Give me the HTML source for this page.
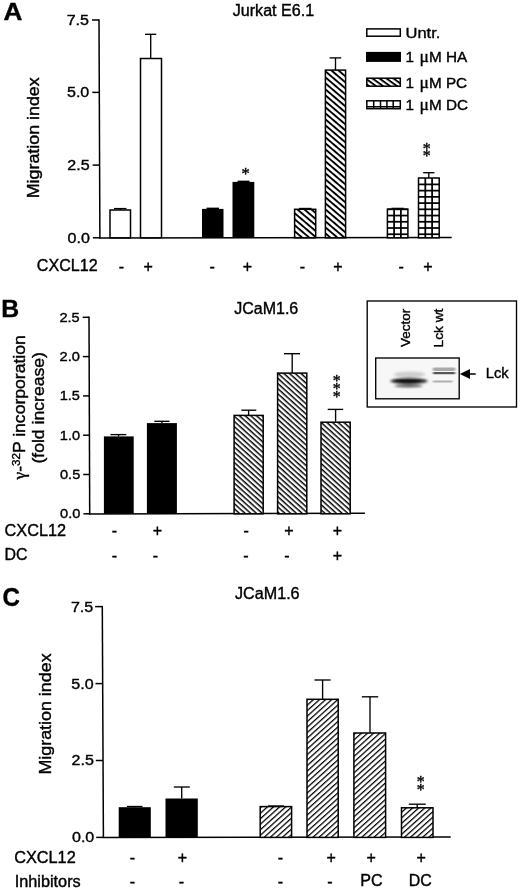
<!DOCTYPE html>
<html lang="en"><head><meta charset="utf-8"><title>Figure</title>
<style>html,body{margin:0;padding:0;background:#fff}body{width:520px;height:891px;overflow:hidden}svg{display:block}text{fill:#000;stroke:#000;stroke-width:0.38px}</style>
</head><body>
<svg width="520" height="891" viewBox="0 0 520 891" font-family="Liberation Sans, Arial, Helvetica, sans-serif">
<defs>
<pattern id="hA" patternUnits="userSpaceOnUse" width="10" height="4.57" patternTransform="translate(325.4 70.1) rotate(40.4)"><rect width="10" height="4.57" fill="#fff"/><rect y="0" width="10" height="1.9" fill="#000"/></pattern>
<pattern id="hB" patternUnits="userSpaceOnUse" width="10" height="3.82" patternTransform="translate(234 415) rotate(42)"><rect width="10" height="3.82" fill="#fff"/><rect y="0" width="10" height="1.45" fill="#000"/></pattern>
<pattern id="hC" patternUnits="userSpaceOnUse" width="10" height="4.08" patternTransform="translate(307 699) rotate(-42)"><rect width="10" height="4.08" fill="#fff"/><rect y="0" width="10" height="1.25" fill="#000"/></pattern>
<pattern id="hL" patternUnits="userSpaceOnUse" width="10" height="4.1" patternTransform="translate(366.8 78.2) rotate(36)"><rect width="10" height="4.1" fill="#fff"/><rect y="0" width="10" height="1.9" fill="#000"/></pattern>
<filter id="bl" x="-20%" y="-100%" width="140%" height="300%"><feGaussianBlur stdDeviation="1.5 0.9"/></filter>
<filter id="bl2" x="-20%" y="-100%" width="140%" height="300%"><feGaussianBlur stdDeviation="1.0 0.6"/></filter>
</defs>
<rect width="520" height="891" fill="#fff"/>
<g id="panelA">
<text x="3.6" y="19.7" font-size="24.6" text-anchor="start" font-weight="bold" textLength="18.9" lengthAdjust="spacingAndGlyphs" >A</text>
<text x="232.8" y="15.6" font-size="16" text-anchor="start" textLength="81.3" lengthAdjust="spacingAndGlyphs" >Jurkat E6.1</text>
<line x1="99.0" y1="19.3" x2="99.9" y2="238.45" stroke="#000" stroke-width="1.5"/>
<line x1="99.25" y1="237.9" x2="451.7" y2="237.4" stroke="#000" stroke-width="1.5"/>
<line x1="92.0" y1="20.0" x2="99.0" y2="20.0" stroke="#000" stroke-width="1.5"/>
<text x="89.0" y="24.9" font-size="15" text-anchor="end" textLength="22.3" lengthAdjust="spacingAndGlyphs" >7.5</text>
<line x1="92.3" y1="92.4" x2="99.3" y2="92.4" stroke="#000" stroke-width="1.5"/>
<text x="89.3" y="97.30000000000001" font-size="15" text-anchor="end" textLength="22.3" lengthAdjust="spacingAndGlyphs" >5.0</text>
<line x1="92.6" y1="165.1" x2="99.6" y2="165.1" stroke="#000" stroke-width="1.5"/>
<text x="89.6" y="170.0" font-size="15" text-anchor="end" textLength="22.3" lengthAdjust="spacingAndGlyphs" >2.5</text>
<line x1="92.9" y1="237.8" x2="99.9" y2="237.8" stroke="#000" stroke-width="1.5"/>
<text x="89.9" y="242.70000000000002" font-size="15" text-anchor="end" textLength="22.3" lengthAdjust="spacingAndGlyphs" >0.0</text>
<text transform="translate(38.5 198.3) rotate(-90)" font-size="16.2" textLength="121" lengthAdjust="spacingAndGlyphs" >Migration index</text>
<rect x="110" y="210" width="20.5" height="27.8" fill="#fff" stroke="#000" stroke-width="1.5"/>
<line x1="120.25" y1="208.6" x2="120.25" y2="210" stroke="#000" stroke-width="1.35"/>
<line x1="114" y1="208.6" x2="126.5" y2="208.6" stroke="#000" stroke-width="1.35"/>
<rect x="140.5" y="58.5" width="21.0" height="179.3" fill="#fff" stroke="#000" stroke-width="1.5"/>
<line x1="150.7" y1="34.3" x2="150.7" y2="58.5" stroke="#000" stroke-width="1.35"/>
<line x1="145" y1="34.3" x2="156.3" y2="34.3" stroke="#000" stroke-width="1.35"/>
<rect x="202" y="208.9" width="21.5" height="28.9" fill="#000"/>
<line x1="212.75" y1="208.3" x2="212.75" y2="209" stroke="#000" stroke-width="1.35"/>
<line x1="206.5" y1="208.3" x2="219" y2="208.3" stroke="#000" stroke-width="1.35"/>
<rect x="232.5" y="181.9" width="21.8" height="55.9" fill="#000"/>
<line x1="243.4" y1="181.3" x2="243.4" y2="182" stroke="#000" stroke-width="1.35"/>
<line x1="237.5" y1="181.3" x2="249.5" y2="181.3" stroke="#000" stroke-width="1.35"/>
<rect x="294.6" y="209.3" width="21.1" height="28.5" fill="url(#hA)" stroke="#000" stroke-width="1.5"/>
<line x1="305.2" y1="208.5" x2="305.2" y2="209.3" stroke="#000" stroke-width="1.35"/>
<line x1="299" y1="208.5" x2="311.5" y2="208.5" stroke="#000" stroke-width="1.35"/>
<rect x="325.4" y="70.1" width="20.2" height="167.7" fill="url(#hA)" stroke="#000" stroke-width="1.5"/>
<line x1="335.5" y1="57.9" x2="335.5" y2="70.1" stroke="#000" stroke-width="1.35"/>
<line x1="329.6" y1="57.9" x2="341.2" y2="57.9" stroke="#000" stroke-width="1.35"/>
<rect x="387.4" y="209.2" width="20.5" height="28.6" fill="#fff" stroke="#000" stroke-width="1.5"/>
<line x1="394.1" y1="209.2" x2="394.1" y2="237.8" stroke="#000" stroke-width="1.75"/>
<line x1="400.9" y1="209.2" x2="400.9" y2="237.8" stroke="#000" stroke-width="1.75"/>
<line x1="387.4" y1="209.32" x2="407.9" y2="209.32" stroke="#000" stroke-width="1.75"/>
<line x1="387.4" y1="215.55" x2="407.9" y2="215.55" stroke="#000" stroke-width="1.75"/>
<line x1="387.4" y1="221.78" x2="407.9" y2="221.78" stroke="#000" stroke-width="1.75"/>
<line x1="387.4" y1="228.01" x2="407.9" y2="228.01" stroke="#000" stroke-width="1.75"/>
<line x1="387.4" y1="234.24" x2="407.9" y2="234.24" stroke="#000" stroke-width="1.75"/>
<line x1="397.6" y1="208.4" x2="397.6" y2="209.2" stroke="#000" stroke-width="1.35"/>
<line x1="391.5" y1="208.4" x2="403.8" y2="208.4" stroke="#000" stroke-width="1.35"/>
<rect x="418.5" y="178" width="20.7" height="59.8" fill="#fff" stroke="#000" stroke-width="1.5"/>
<line x1="425.3" y1="178" x2="425.3" y2="237.8" stroke="#000" stroke-width="1.75"/>
<line x1="432.1" y1="178" x2="432.1" y2="237.8" stroke="#000" stroke-width="1.75"/>
<line x1="418.5" y1="184.4" x2="439.2" y2="184.4" stroke="#000" stroke-width="1.75"/>
<line x1="418.5" y1="190.63" x2="439.2" y2="190.63" stroke="#000" stroke-width="1.75"/>
<line x1="418.5" y1="196.86" x2="439.2" y2="196.86" stroke="#000" stroke-width="1.75"/>
<line x1="418.5" y1="203.09" x2="439.2" y2="203.09" stroke="#000" stroke-width="1.75"/>
<line x1="418.5" y1="209.32" x2="439.2" y2="209.32" stroke="#000" stroke-width="1.75"/>
<line x1="418.5" y1="215.55" x2="439.2" y2="215.55" stroke="#000" stroke-width="1.75"/>
<line x1="418.5" y1="221.78" x2="439.2" y2="221.78" stroke="#000" stroke-width="1.75"/>
<line x1="418.5" y1="228.01" x2="439.2" y2="228.01" stroke="#000" stroke-width="1.75"/>
<line x1="418.5" y1="234.24" x2="439.2" y2="234.24" stroke="#000" stroke-width="1.75"/>
<line x1="428.8" y1="172.7" x2="428.8" y2="178" stroke="#000" stroke-width="1.35"/>
<line x1="423.2" y1="172.7" x2="434.4" y2="172.7" stroke="#000" stroke-width="1.35"/>
<text x="245.5" y="179.34" font-size="16.5" text-anchor="middle" stroke="none" font-family="Liberation Serif, Times New Roman, serif">*</text>
<text x="426.6" y="153.8" font-size="15.8" text-anchor="middle" stroke="none" font-family="Liberation Serif, Times New Roman, serif">*</text>
<text x="426.6" y="161.1" font-size="15.8" text-anchor="middle" stroke="none" font-family="Liberation Serif, Times New Roman, serif">*</text>
<text x="36.8" y="270.5" font-size="16" text-anchor="start" textLength="60.8" lengthAdjust="spacingAndGlyphs" >CXCL12</text>
<text x="121.4" y="271.6" font-size="16" text-anchor="middle" >-</text>
<text x="148.2" y="271.75" font-size="16" text-anchor="middle" >+</text>
<text x="212.2" y="271.6" font-size="16" text-anchor="middle" >-</text>
<text x="247.5" y="271.75" font-size="16" text-anchor="middle" >+</text>
<text x="302.4" y="271.6" font-size="16" text-anchor="middle" >-</text>
<text x="337.8" y="271.75" font-size="16" text-anchor="middle" >+</text>
<text x="401.2" y="271.6" font-size="16" text-anchor="middle" >-</text>
<text x="427.8" y="271.75" font-size="16" text-anchor="middle" >+</text>
<rect x="366.8" y="28.9" width="33.5" height="7.3" fill="#fff" stroke="#000" stroke-width="1.5"/>
<rect x="366" y="51.9" width="35" height="10.0" fill="#000"/>
<rect x="366.8" y="78.2" width="33.5" height="8.0" fill="url(#hL)" stroke="#000" stroke-width="1.5"/>
<rect x="366.8" y="100.8" width="33.5" height="7.9" fill="#fff" stroke="#000" stroke-width="1.5"/>
<line x1="373.7" y1="100.8" x2="373.7" y2="108.7" stroke="#000" stroke-width="1.5"/>
<line x1="380.5" y1="100.8" x2="380.5" y2="108.7" stroke="#000" stroke-width="1.5"/>
<line x1="386.9" y1="100.8" x2="386.9" y2="108.7" stroke="#000" stroke-width="1.5"/>
<line x1="393.2" y1="100.8" x2="393.2" y2="108.7" stroke="#000" stroke-width="1.5"/>
<line x1="366.8" y1="106.7" x2="400.3" y2="106.7" stroke="#000" stroke-width="1.5"/>
<text x="405.5" y="37.6" font-size="15.5" text-anchor="start" textLength="34.8" lengthAdjust="spacingAndGlyphs" >Untr.</text>
<text y="62.3" font-size="15.3"><tspan x="405.6">1 </tspan><tspan x="419.4" font-family="Liberation Serif, Times New Roman, serif" font-size="17.5">μ</tspan><tspan x="428.9">M HA</tspan></text>
<text y="87.5" font-size="15.3"><tspan x="405.6">1 </tspan><tspan x="419.4" font-family="Liberation Serif, Times New Roman, serif" font-size="17.5">μ</tspan><tspan x="428.9">M PC</tspan></text>
<text y="110.1" font-size="15.3"><tspan x="405.6">1 </tspan><tspan x="419.4" font-family="Liberation Serif, Times New Roman, serif" font-size="17.5">μ</tspan><tspan x="428.9">M DC</tspan></text>
</g>
<g id="panelB">
<text x="1.3" y="316.7" font-size="24.8" text-anchor="start" font-weight="bold" >B</text>
<text x="234.2" y="313.8" font-size="16" text-anchor="start" textLength="64.1" lengthAdjust="spacingAndGlyphs" >JCaM1.6</text>
<line x1="89.0" y1="316.6" x2="89.7" y2="514.45" stroke="#000" stroke-width="1.5"/>
<line x1="89.05" y1="513.9" x2="364.9" y2="513.3" stroke="#000" stroke-width="1.5"/>
<line x1="82.7" y1="317.3" x2="89.0" y2="317.3" stroke="#000" stroke-width="1.5"/>
<text x="79.7" y="321.7" font-size="13.7" text-anchor="end" textLength="20.3" lengthAdjust="spacingAndGlyphs" >2.5</text>
<line x1="82.84" y1="356.6" x2="89.14" y2="356.6" stroke="#000" stroke-width="1.5"/>
<text x="79.84" y="361.0" font-size="13.7" text-anchor="end" textLength="20.3" lengthAdjust="spacingAndGlyphs" >2.0</text>
<line x1="82.98" y1="395.9" x2="89.28" y2="395.9" stroke="#000" stroke-width="1.5"/>
<text x="79.98" y="400.29999999999995" font-size="13.7" text-anchor="end" textLength="20.3" lengthAdjust="spacingAndGlyphs" >1.5</text>
<line x1="83.12" y1="435.2" x2="89.42" y2="435.2" stroke="#000" stroke-width="1.5"/>
<text x="80.12" y="439.59999999999997" font-size="13.7" text-anchor="end" textLength="20.3" lengthAdjust="spacingAndGlyphs" >1.0</text>
<line x1="83.26" y1="474.5" x2="89.56" y2="474.5" stroke="#000" stroke-width="1.5"/>
<text x="80.26" y="478.9" font-size="13.7" text-anchor="end" textLength="20.3" lengthAdjust="spacingAndGlyphs" >0.5</text>
<line x1="83.4" y1="513.8" x2="89.7" y2="513.8" stroke="#000" stroke-width="1.5"/>
<text x="80.4" y="518.1999999999999" font-size="13.7" text-anchor="end" textLength="20.3" lengthAdjust="spacingAndGlyphs" >0.0</text>
<text transform="translate(25.0 479.4) rotate(-90)" font-size="16.8" textLength="144.2" lengthAdjust="spacingAndGlyphs" ><tspan font-family="Liberation Serif, Times New Roman, serif" font-size="16.5">γ</tspan>-<tspan font-size="11" dy="-5.2">32</tspan><tspan dy="5.2">P incorporation</tspan></text>
<text transform="translate(44.4 463.6) rotate(-90)" font-size="16.8" textLength="111.5" lengthAdjust="spacingAndGlyphs" >(fold increase)</text>
<rect x="103.9" y="436.4" width="29.8" height="77.4" fill="#000"/>
<line x1="118.6" y1="434.6" x2="118.6" y2="436.4" stroke="#000" stroke-width="1.35"/>
<line x1="110.5" y1="434.6" x2="126.3" y2="434.6" stroke="#000" stroke-width="1.35"/>
<rect x="146.9" y="423.1" width="30.0" height="90.7" fill="#000"/>
<line x1="161.9" y1="421.3" x2="161.9" y2="423.1" stroke="#000" stroke-width="1.35"/>
<line x1="154.3" y1="421.3" x2="169.5" y2="421.3" stroke="#000" stroke-width="1.35"/>
<rect x="234.1" y="415.4" width="29.1" height="98.4" fill="url(#hB)" stroke="#000" stroke-width="1.5"/>
<line x1="248.6" y1="410.2" x2="248.6" y2="415.4" stroke="#000" stroke-width="1.35"/>
<line x1="241.3" y1="410.2" x2="256.3" y2="410.2" stroke="#000" stroke-width="1.35"/>
<rect x="277.6" y="373.1" width="29.2" height="140.7" fill="url(#hB)" stroke="#000" stroke-width="1.5"/>
<line x1="292.2" y1="353.7" x2="292.2" y2="373.1" stroke="#000" stroke-width="1.35"/>
<line x1="284" y1="353.7" x2="300" y2="353.7" stroke="#000" stroke-width="1.35"/>
<rect x="321" y="422.2" width="29.2" height="91.6" fill="url(#hB)" stroke="#000" stroke-width="1.5"/>
<line x1="335.6" y1="409.4" x2="335.6" y2="421.7" stroke="#000" stroke-width="1.35"/>
<line x1="327.7" y1="409.4" x2="343.2" y2="409.4" stroke="#000" stroke-width="1.35"/>
<text x="336.8" y="385.9" font-size="15.8" text-anchor="middle" stroke="none" font-family="Liberation Serif, Times New Roman, serif">*</text>
<text x="336.8" y="393.9" font-size="15.8" text-anchor="middle" stroke="none" font-family="Liberation Serif, Times New Roman, serif">*</text>
<text x="336.8" y="401.6" font-size="15.8" text-anchor="middle" stroke="none" font-family="Liberation Serif, Times New Roman, serif">*</text>
<text x="4.6" y="535.6" font-size="16" text-anchor="start" textLength="61.5" lengthAdjust="spacingAndGlyphs" >CXCL12</text>
<text x="4.6" y="560.1" font-size="15.8" text-anchor="start" textLength="23" lengthAdjust="spacingAndGlyphs" >DC</text>
<text x="114.5" y="536.1" font-size="16" text-anchor="middle" >-</text>
<text x="157.5" y="536.25" font-size="16" text-anchor="middle" >+</text>
<text x="246.2" y="536.1" font-size="16" text-anchor="middle" >-</text>
<text x="289" y="536.25" font-size="16" text-anchor="middle" >+</text>
<text x="337.5" y="536.25" font-size="16" text-anchor="middle" >+</text>
<text x="114.3" y="560.8000000000001" font-size="16" text-anchor="middle" >-</text>
<text x="155.5" y="560.8000000000001" font-size="16" text-anchor="middle" >-</text>
<text x="246" y="560.8000000000001" font-size="16" text-anchor="middle" >-</text>
<text x="287" y="560.8000000000001" font-size="16" text-anchor="middle" >-</text>
<text x="337.5" y="560.95" font-size="16" text-anchor="middle" >+</text>
<rect x="367.2" y="301.0" width="149.3" height="106.0" fill="#fff" stroke="#000" stroke-width="1.35"/>
<rect x="375.7" y="358" width="83.5" height="40.8" fill="#f7f7f7" stroke="#000" stroke-width="1.35"/>
<text transform="translate(409.9 346.9) rotate(-90)" font-size="13.3" textLength="38.2" lengthAdjust="spacingAndGlyphs" >Vector</text>
<text transform="translate(442.6 347.4) rotate(-90)" font-size="13.6" textLength="38.8" lengthAdjust="spacingAndGlyphs" >Lck wt</text>
<g filter="url(#bl)">
<ellipse cx="409.5" cy="374.6" rx="15.5" ry="3.2" fill="#cfcfcf"/>
<ellipse cx="409" cy="381" rx="18.5" ry="3.2" fill="#3a3a3a"/>
<ellipse cx="408" cy="380.9" rx="13.5" ry="2" fill="#0a0a0a"/>
<ellipse cx="408.5" cy="386" rx="14" ry="1.5" fill="#5a5a5a"/>
</g><g filter="url(#bl2)">
<rect x="432.8" y="367.6" width="22.6" height="3.3" rx="1.2" fill="#a9a9a9"/>
<rect x="432.8" y="371.9" width="22.6" height="2.3" rx="1.1" fill="#575757"/>
<rect x="432.6" y="380.6" width="20" height="1.9" rx="0.9" fill="#b0b0b0"/>
</g>
<polygon points="459.9,374 470,368.9 470,379.1" fill="#000"/>
<line x1="469.5" y1="374" x2="475.7" y2="374" stroke="#000" stroke-width="1.5"/>
<text x="485.7" y="377.5" font-size="14.7" text-anchor="start" textLength="23" lengthAdjust="spacingAndGlyphs" >Lck</text>
</g>
<g id="panelC">
<text x="2.6" y="606.4" font-size="25.3" text-anchor="start" font-weight="bold" textLength="17.4" lengthAdjust="spacingAndGlyphs" >C</text>
<text x="235" y="599.4" font-size="16" text-anchor="start" textLength="64.6" lengthAdjust="spacingAndGlyphs" >JCaM1.6</text>
<line x1="102.3" y1="605.9" x2="103.4" y2="838.05" stroke="#000" stroke-width="1.5"/>
<line x1="102.75" y1="837.5" x2="450.7" y2="836.9" stroke="#000" stroke-width="1.5"/>
<line x1="95.1" y1="606.6" x2="102.3" y2="606.6" stroke="#000" stroke-width="1.5"/>
<text x="93.2" y="611.5" font-size="15" text-anchor="end" textLength="22.3" lengthAdjust="spacingAndGlyphs" >7.5</text>
<line x1="95.47" y1="683.6" x2="102.67" y2="683.6" stroke="#000" stroke-width="1.5"/>
<text x="93.57" y="688.5" font-size="15" text-anchor="end" textLength="22.3" lengthAdjust="spacingAndGlyphs" >5.0</text>
<line x1="95.83" y1="760.5" x2="103.03" y2="760.5" stroke="#000" stroke-width="1.5"/>
<text x="93.93" y="765.4" font-size="15" text-anchor="end" textLength="22.3" lengthAdjust="spacingAndGlyphs" >2.5</text>
<line x1="96.2" y1="837.4" x2="103.4" y2="837.4" stroke="#000" stroke-width="1.5"/>
<text x="94.3" y="842.3" font-size="15" text-anchor="end" textLength="22.3" lengthAdjust="spacingAndGlyphs" >0.0</text>
<text transform="translate(50.6 774.6) rotate(-90)" font-size="17.3" textLength="121.2" lengthAdjust="spacingAndGlyphs" >Migration index</text>
<rect x="118.7" y="807.2" width="32.1" height="30.2" fill="#000"/>
<line x1="134.7" y1="806.5" x2="134.7" y2="807.2" stroke="#000" stroke-width="1.35"/>
<line x1="127" y1="806.5" x2="142.5" y2="806.5" stroke="#000" stroke-width="1.35"/>
<rect x="165.5" y="798.5" width="32.3" height="38.9" fill="#000"/>
<line x1="181.7" y1="787" x2="181.7" y2="798.5" stroke="#000" stroke-width="1.35"/>
<line x1="173.8" y1="787" x2="189.8" y2="787" stroke="#000" stroke-width="1.35"/>
<rect x="260.2" y="806.6" width="31.4" height="30.8" fill="url(#hC)" stroke="#000" stroke-width="1.5"/>
<line x1="275.9" y1="806" x2="275.9" y2="806.6" stroke="#000" stroke-width="1.35"/>
<line x1="268" y1="806" x2="284" y2="806" stroke="#000" stroke-width="1.35"/>
<rect x="307" y="699.3" width="31.2" height="138.1" fill="url(#hC)" stroke="#000" stroke-width="1.5"/>
<line x1="322.6" y1="680" x2="322.6" y2="699.3" stroke="#000" stroke-width="1.35"/>
<line x1="314.5" y1="680" x2="330.6" y2="680" stroke="#000" stroke-width="1.35"/>
<rect x="353.9" y="733" width="31.7" height="104.4" fill="url(#hC)" stroke="#000" stroke-width="1.5"/>
<line x1="370" y1="696.8" x2="370" y2="733" stroke="#000" stroke-width="1.35"/>
<line x1="361.8" y1="696.8" x2="378.2" y2="696.8" stroke="#000" stroke-width="1.35"/>
<rect x="401.5" y="807.8" width="31.5" height="29.6" fill="url(#hC)" stroke="#000" stroke-width="1.5"/>
<line x1="417.2" y1="804.2" x2="417.2" y2="807.8" stroke="#000" stroke-width="1.35"/>
<line x1="408.8" y1="804.2" x2="425.7" y2="804.2" stroke="#000" stroke-width="1.35"/>
<text x="420.8" y="786.8" font-size="15.8" text-anchor="middle" stroke="none" font-family="Liberation Serif, Times New Roman, serif">*</text>
<text x="420.8" y="794.9" font-size="15.8" text-anchor="middle" stroke="none" font-family="Liberation Serif, Times New Roman, serif">*</text>
<text x="14.2" y="862.5" font-size="16" text-anchor="start" textLength="61.5" lengthAdjust="spacingAndGlyphs" >CXCL12</text>
<text x="14.7" y="887" font-size="16" text-anchor="start" textLength="66" lengthAdjust="spacingAndGlyphs" >Inhibitors</text>
<text x="132.3" y="863.3000000000001" font-size="16" text-anchor="middle" >-</text>
<text x="182.5" y="863.45" font-size="16" text-anchor="middle" >+</text>
<text x="280.3" y="863.3000000000001" font-size="16" text-anchor="middle" >-</text>
<text x="331.2" y="863.45" font-size="16" text-anchor="middle" >+</text>
<text x="371.2" y="863.45" font-size="16" text-anchor="middle" >+</text>
<text x="421.2" y="863.45" font-size="16" text-anchor="middle" >+</text>
<text x="132.3" y="887.1" font-size="16" text-anchor="middle" >-</text>
<text x="181.5" y="887.1" font-size="16" text-anchor="middle" >-</text>
<text x="280.3" y="887.1" font-size="16" text-anchor="middle" >-</text>
<text x="330" y="887.1" font-size="16" text-anchor="middle" >-</text>
<text x="360.2" y="886" font-size="15.8" text-anchor="start" textLength="22.4" lengthAdjust="spacingAndGlyphs" >PC</text>
<text x="408.7" y="886" font-size="15.8" text-anchor="start" textLength="23" lengthAdjust="spacingAndGlyphs" >DC</text>
</g>
</svg></body></html>
